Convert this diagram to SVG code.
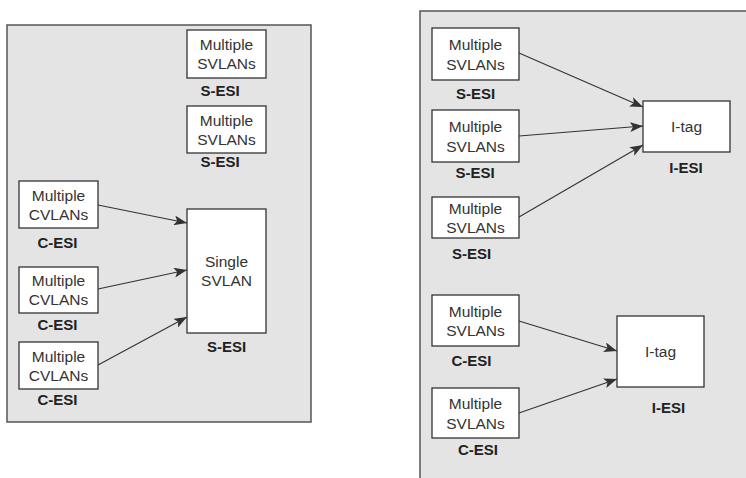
<svg xmlns="http://www.w3.org/2000/svg" width="746" height="478" viewBox="0 0 746 478">
<style>
.panel{fill:#e4e4e4;stroke:#555;stroke-width:1.5}
.box{fill:#fff;stroke:#333;stroke-width:1.3}
.t{font-family:"Liberation Sans",Arial,sans-serif;font-size:15.5px;fill:#333;text-anchor:middle}
.l{font-family:"Liberation Sans",Arial,sans-serif;font-size:15px;font-weight:bold;fill:#222;text-anchor:middle}
.c{stroke:#333;stroke-width:1.1;fill:none;marker-end:url(#ah)}
</style>
<defs>
<marker id="ah" markerUnits="userSpaceOnUse" markerWidth="14" markerHeight="10" refX="13" refY="5" orient="auto">
<path d="M0,0 L13,5 L0,10 L3,5 Z" fill="#333"/>
</marker>
</defs>
<rect id="panel-left" class="panel" x="7" y="25" width="304" height="397"/>
<rect id="panel-right" class="panel" x="420" y="11" width="340" height="480"/>

<g id="connectors">
<line class="c" x1="98" y1="205" x2="187" y2="223"/>
<line class="c" x1="98" y1="289" x2="187" y2="270"/>
<line class="c" x1="98" y1="365" x2="187" y2="317"/>
<line class="c" x1="519" y1="53" x2="643" y2="107"/>
<line class="c" x1="519" y1="136" x2="643" y2="126"/>
<line class="c" x1="519" y1="217" x2="643" y2="145"/>
<line class="c" x1="519" y1="321" x2="617" y2="351"/>
<line class="c" x1="519" y1="413" x2="617" y2="379"/>
</g>

<g id="l-s1">
<rect class="box" x="187" y="30" width="79" height="48"/>
<text class="t" x="226.5" y="50">Multiple</text>
<text class="t" x="226.5" y="69">SVLANs</text>
<text class="l" x="220" y="96">S-ESI</text>
</g>
<g id="l-s2">
<rect class="box" x="187" y="106" width="79" height="47"/>
<text class="t" x="226.5" y="125.5">Multiple</text>
<text class="t" x="226.5" y="144.5">SVLANs</text>
<text class="l" x="220" y="167">S-ESI</text>
</g>
<g id="l-c1">
<rect class="box" x="19" y="181" width="79" height="47"/>
<text class="t" x="58.5" y="200.5">Multiple</text>
<text class="t" x="58.5" y="219.5">CVLANs</text>
<text class="l" x="57.5" y="248">C-ESI</text>
</g>
<g id="l-single">
<rect class="box" x="187" y="209" width="79" height="124"/>
<text class="t" x="226.5" y="267">Single</text>
<text class="t" x="226.5" y="286">SVLAN</text>
<text class="l" x="226.5" y="351.5">S-ESI</text>
</g>
<g id="l-c2">
<rect class="box" x="19" y="267" width="79" height="46"/>
<text class="t" x="58.5" y="286">Multiple</text>
<text class="t" x="58.5" y="305">CVLANs</text>
<text class="l" x="57.5" y="330">C-ESI</text>
</g>
<g id="l-c3">
<rect class="box" x="19" y="342" width="79" height="47"/>
<text class="t" x="58.5" y="361.5">Multiple</text>
<text class="t" x="58.5" y="380.5">CVLANs</text>
<text class="l" x="57.5" y="405">C-ESI</text>
</g>

<g id="r-s1">
<rect class="box" x="432" y="28" width="87" height="52"/>
<text class="t" x="475.5" y="50">Multiple</text>
<text class="t" x="475.5" y="69.5">SVLANs</text>
<text class="l" x="475.5" y="99">S-ESI</text>
</g>
<g id="r-s2">
<rect class="box" x="432" y="110" width="87" height="52"/>
<text class="t" x="475.5" y="132">Multiple</text>
<text class="t" x="475.5" y="151.5">SVLANs</text>
<text class="l" x="475" y="178">S-ESI</text>
</g>
<g id="r-s3">
<rect class="box" x="432" y="197" width="87" height="41"/>
<text class="t" x="475.5" y="214">Multiple</text>
<text class="t" x="475.5" y="233">SVLANs</text>
<text class="l" x="471.5" y="259">S-ESI</text>
</g>
<g id="r-itag1">
<rect class="box" x="643" y="101" width="87" height="51"/>
<text class="t" x="686.5" y="132">I-tag</text>
<text class="l" x="686" y="173">I-ESI</text>
</g>
<g id="r-c1">
<rect class="box" x="432" y="295" width="87" height="51"/>
<text class="t" x="475.5" y="316.5">Multiple</text>
<text class="t" x="475.5" y="336">SVLANs</text>
<text class="l" x="471.5" y="366">C-ESI</text>
</g>
<g id="r-c2">
<rect class="box" x="432" y="388" width="87" height="50"/>
<text class="t" x="475.5" y="409">Multiple</text>
<text class="t" x="475.5" y="428.5">SVLANs</text>
<text class="l" x="478" y="455">C-ESI</text>
</g>
<g id="r-itag2">
<rect class="box" x="617" y="316" width="87" height="71"/>
<text class="t" x="660.5" y="357">I-tag</text>
<text class="l" x="668.5" y="413">I-ESI</text>
</g>
</svg>
